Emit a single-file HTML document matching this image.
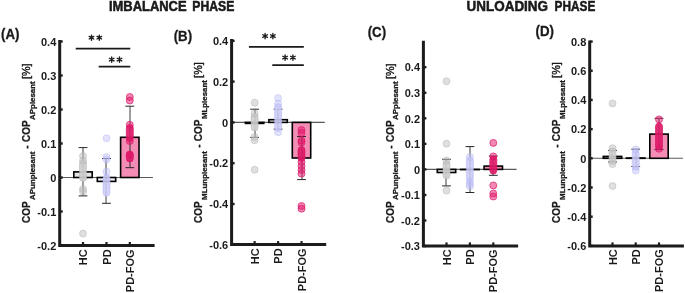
<!DOCTYPE html>
<html><head><meta charset="utf-8"><style>
html,body{margin:0;padding:0;background:#fff;width:685px;height:293px;overflow:hidden;}
svg{display:block;will-change:transform;font-family:"Liberation Sans",sans-serif;}
</style></head><body>
<svg width="685" height="293" viewBox="0 0 685 293"><rect width="685" height="293" fill="#fff"/><text x="108.9" y="11.3" font-family="Liberation Sans" font-weight="bold" font-size="14.8" fill="#1a1a1a" stroke="#1a1a1a" stroke-width="0.55" textLength="77.7" lengthAdjust="spacingAndGlyphs">IMBALANCE</text><text x="192.3" y="11.3" font-family="Liberation Sans" font-weight="bold" font-size="14.8" fill="#1a1a1a" stroke="#1a1a1a" stroke-width="0.55" textLength="42.0" lengthAdjust="spacingAndGlyphs">PHASE</text><text x="466.6" y="11.3" font-family="Liberation Sans" font-weight="bold" font-size="14.8" fill="#1a1a1a" stroke="#1a1a1a" stroke-width="0.55" textLength="81.4" lengthAdjust="spacingAndGlyphs">UNLOADING</text><text x="554.6" y="11.3" font-family="Liberation Sans" font-weight="bold" font-size="14.8" fill="#1a1a1a" stroke="#1a1a1a" stroke-width="0.55" textLength="40.7" lengthAdjust="spacingAndGlyphs">PHASE</text><text x="1.0" y="38.9" font-family="Liberation Sans" font-weight="bold" font-size="13.8" fill="#1a1a1a" stroke="#1a1a1a" stroke-width="0.3" textLength="18.4" lengthAdjust="spacingAndGlyphs">(A)</text><text x="173.7" y="40.5" font-family="Liberation Sans" font-weight="bold" font-size="13.8" fill="#1a1a1a" stroke="#1a1a1a" stroke-width="0.3" textLength="18.4" lengthAdjust="spacingAndGlyphs">(B)</text><text x="367.7" y="36.9" font-family="Liberation Sans" font-weight="bold" font-size="13.8" fill="#1a1a1a" stroke="#1a1a1a" stroke-width="0.3" textLength="18.4" lengthAdjust="spacingAndGlyphs">(C)</text><text x="535.6" y="36.4" font-family="Liberation Sans" font-weight="bold" font-size="13.8" fill="#1a1a1a" stroke="#1a1a1a" stroke-width="0.3" textLength="18.4" lengthAdjust="spacingAndGlyphs">(D)</text><g><line x1="59.7" y1="177.5" x2="152.90" y2="177.5" stroke="#5a5a5a" stroke-width="1.1"/><rect x="73.80" y="171.90" width="18.4" height="5.60" fill="#e5e5e5" stroke="#000" stroke-width="1.6"/><rect x="97.30" y="177.50" width="18.4" height="3.90" fill="#ececf8" stroke="#000" stroke-width="1.6"/><rect x="120.60" y="137.30" width="18.4" height="40.20" fill="#f38db5" stroke="#000" stroke-width="1.6"/><path d="M83,147.6V195.9" stroke="#262626" stroke-width="0.9" fill="none"/><path d="M78.60,147.6H87.40M78.60,195.9H87.40" stroke="#262626" stroke-width="1.0" fill="none"/><path d="M106,158.5V203.3" stroke="#262626" stroke-width="0.9" fill="none"/><path d="M102.10,158.5H110.90M102.10,203.3H110.90" stroke="#262626" stroke-width="1.0" fill="none"/><path d="M130,106.2V167.7" stroke="#262626" stroke-width="0.9" fill="none"/><path d="M125.40,106.2H134.20M125.40,167.7H134.20" stroke="#262626" stroke-width="1.0" fill="none"/><rect x="79.50" y="160.00" width="7.0" height="21.50" rx="3.5" fill="#d0d0d0" fill-opacity="0.9" stroke="#b4b4b4" stroke-opacity="0.6" stroke-width="0.8"/><circle cx="83.00" cy="163.50" r="3.2" fill="none" stroke="#b4b4b4" stroke-opacity="0.18" stroke-width="0.7"/><circle cx="83.00" cy="167.02" r="3.2" fill="none" stroke="#b4b4b4" stroke-opacity="0.18" stroke-width="0.7"/><circle cx="83.00" cy="170.54" r="3.2" fill="none" stroke="#b4b4b4" stroke-opacity="0.18" stroke-width="0.7"/><circle cx="83.00" cy="174.06" r="3.2" fill="none" stroke="#b4b4b4" stroke-opacity="0.18" stroke-width="0.7"/><circle cx="83.00" cy="177.58" r="3.2" fill="none" stroke="#b4b4b4" stroke-opacity="0.18" stroke-width="0.7"/><circle cx="83.00" cy="156.0" r="3.5" fill="#c0c0c0" fill-opacity="0.5" stroke="#b4b4b4" stroke-opacity="0.6" stroke-width="0.8"/><circle cx="83.00" cy="160.5" r="3.5" fill="#c0c0c0" fill-opacity="0.5" stroke="#b4b4b4" stroke-opacity="0.6" stroke-width="0.8"/><circle cx="83.00" cy="189" r="3.5" fill="#c0c0c0" fill-opacity="0.5" stroke="#b4b4b4" stroke-opacity="0.6" stroke-width="0.8"/><circle cx="83.00" cy="191.5" r="3.5" fill="#c0c0c0" fill-opacity="0.5" stroke="#b4b4b4" stroke-opacity="0.6" stroke-width="0.8"/><circle cx="83.00" cy="233.6" r="3.5" fill="#c0c0c0" fill-opacity="0.5" stroke="#b4b4b4" stroke-opacity="0.6" stroke-width="0.8"/><rect x="103.00" y="174.50" width="7.0" height="21.80" rx="3.5" fill="#ceceF8" fill-opacity="0.85" stroke="#b0b0f6" stroke-opacity="0.55" stroke-width="0.8"/><circle cx="106.50" cy="178.00" r="3.2" fill="none" stroke="#b0b0f6" stroke-opacity="0.18" stroke-width="0.7"/><circle cx="106.50" cy="181.96" r="3.2" fill="none" stroke="#b0b0f6" stroke-opacity="0.18" stroke-width="0.7"/><circle cx="106.50" cy="185.92" r="3.2" fill="none" stroke="#b0b0f6" stroke-opacity="0.18" stroke-width="0.7"/><circle cx="106.50" cy="189.88" r="3.2" fill="none" stroke="#b0b0f6" stroke-opacity="0.18" stroke-width="0.7"/><circle cx="106.50" cy="138.2" r="3.5" fill="#c0c0fa" fill-opacity="0.45" stroke="#b0b0f6" stroke-opacity="0.55" stroke-width="0.8"/><circle cx="106.50" cy="157" r="3.5" fill="#c0c0fa" fill-opacity="0.45" stroke="#b0b0f6" stroke-opacity="0.55" stroke-width="0.8"/><circle cx="106.50" cy="159.5" r="3.5" fill="#c0c0fa" fill-opacity="0.45" stroke="#b0b0f6" stroke-opacity="0.55" stroke-width="0.8"/><circle cx="106.50" cy="171.7" r="3.5" fill="#c0c0fa" fill-opacity="0.45" stroke="#b0b0f6" stroke-opacity="0.55" stroke-width="0.8"/><rect x="126.30" y="124.50" width="7.0" height="17.00" rx="3.5" fill="#e01a68" fill-opacity="0.9" stroke="#d81866" stroke-opacity="0.85" stroke-width="0.8"/><circle cx="129.80" cy="128.00" r="3.2" fill="none" stroke="#d81866" stroke-opacity="0.18" stroke-width="0.7"/><circle cx="129.80" cy="131.96" r="3.2" fill="none" stroke="#d81866" stroke-opacity="0.18" stroke-width="0.7"/><circle cx="129.80" cy="135.92" r="3.2" fill="none" stroke="#d81866" stroke-opacity="0.18" stroke-width="0.7"/><rect x="126.30" y="151.50" width="7.0" height="10.50" rx="3.5" fill="#e01a68" fill-opacity="0.9" stroke="#d81866" stroke-opacity="0.85" stroke-width="0.8"/><circle cx="129.80" cy="155.00" r="3.2" fill="none" stroke="#d81866" stroke-opacity="0.18" stroke-width="0.7"/><circle cx="129.80" cy="158.30" r="3.2" fill="none" stroke="#d81866" stroke-opacity="0.18" stroke-width="0.7"/><circle cx="129.80" cy="97" r="3.5" fill="#e3136a" fill-opacity="0.5" stroke="#d81866" stroke-opacity="0.85" stroke-width="0.8"/><circle cx="129.80" cy="100.5" r="3.5" fill="#e3136a" fill-opacity="0.5" stroke="#d81866" stroke-opacity="0.85" stroke-width="0.8"/><circle cx="129.80" cy="124.8" r="3.5" fill="#e3136a" fill-opacity="0.5" stroke="#d81866" stroke-opacity="0.85" stroke-width="0.8"/><circle cx="129.80" cy="141" r="3.5" fill="#e3136a" fill-opacity="0.5" stroke="#d81866" stroke-opacity="0.85" stroke-width="0.8"/><circle cx="129.80" cy="154.4" r="3.5" fill="#e3136a" fill-opacity="0.5" stroke="#d81866" stroke-opacity="0.85" stroke-width="0.8"/><path d="M59.7,39.9V245.5H154.6" stroke="#1c1c1c" stroke-width="3" fill="none" stroke-linejoin="miter"/><line x1="59.7" y1="41.50" x2="62.70" y2="41.50" stroke="#1c1c1c" stroke-width="2.4"/><text x="56.30" y="45.70" font-family="Liberation Sans" font-weight="bold" font-size="11" fill="#1a1a1a" text-anchor="end">0.4</text><line x1="59.7" y1="75.50" x2="62.70" y2="75.50" stroke="#1c1c1c" stroke-width="2.4"/><text x="56.30" y="79.70" font-family="Liberation Sans" font-weight="bold" font-size="11" fill="#1a1a1a" text-anchor="end">0.3</text><line x1="59.7" y1="109.50" x2="62.70" y2="109.50" stroke="#1c1c1c" stroke-width="2.4"/><text x="56.30" y="113.70" font-family="Liberation Sans" font-weight="bold" font-size="11" fill="#1a1a1a" text-anchor="end">0.2</text><line x1="59.7" y1="143.50" x2="62.70" y2="143.50" stroke="#1c1c1c" stroke-width="2.4"/><text x="56.30" y="147.70" font-family="Liberation Sans" font-weight="bold" font-size="11" fill="#1a1a1a" text-anchor="end">0.1</text><line x1="59.7" y1="177.50" x2="62.70" y2="177.50" stroke="#1c1c1c" stroke-width="2.4"/><text x="56.30" y="181.70" font-family="Liberation Sans" font-weight="bold" font-size="11" fill="#1a1a1a" text-anchor="end">0</text><line x1="59.7" y1="211.50" x2="62.70" y2="211.50" stroke="#1c1c1c" stroke-width="2.4"/><text x="56.30" y="215.70" font-family="Liberation Sans" font-weight="bold" font-size="11" fill="#1a1a1a" text-anchor="end">-0.1</text><line x1="59.7" y1="245.50" x2="62.70" y2="245.50" stroke="#1c1c1c" stroke-width="2.4"/><text x="56.30" y="249.70" font-family="Liberation Sans" font-weight="bold" font-size="11" fill="#1a1a1a" text-anchor="end">-0.2</text><line x1="83.00" y1="245.5" x2="83.00" y2="242.00" stroke="#1c1c1c" stroke-width="2.2"/><text transform="translate(87.00,249.4) rotate(-90)" font-family="Liberation Sans" font-weight="bold" font-size="11" fill="#1a1a1a" text-anchor="end">HC</text><line x1="106.50" y1="245.5" x2="106.50" y2="242.00" stroke="#1c1c1c" stroke-width="2.2"/><text transform="translate(110.50,249.4) rotate(-90)" font-family="Liberation Sans" font-weight="bold" font-size="11" fill="#1a1a1a" text-anchor="end">PD</text><line x1="129.80" y1="245.5" x2="129.80" y2="242.00" stroke="#1c1c1c" stroke-width="2.2"/><text transform="translate(133.80,249.4) rotate(-90)" font-family="Liberation Sans" font-weight="bold" font-size="11" fill="#1a1a1a" text-anchor="end">PD-FOG</text><text transform="translate(30.20,0) rotate(-90)" font-family="Liberation Sans" font-weight="bold" font-size="10" fill="#1a1a1a" stroke="#1a1a1a" stroke-width="0.25"><tspan x="-222.9">COP</tspan><tspan x="-199.9" dy="4.4" font-size="7.9" stroke-width="0.3">APunplesant</tspan><tspan x="-148.65" dy="-4.4">-</tspan><tspan x="-142.00">COP</tspan><tspan x="-119.90" dy="4.4" font-size="7.9" stroke-width="0.3">APplesant</tspan><tspan x="-79.10" dy="-4.4" font-weight="normal" font-size="10.9" stroke="#1a1a1a" stroke-width="0.4">[%]</tspan></text></g><g><line x1="231.6" y1="122.4" x2="324.80" y2="122.4" stroke="#5a5a5a" stroke-width="1.1"/><rect x="245.40" y="122.40" width="18.4" height="1.00" fill="#e5e5e5" stroke="#000" stroke-width="1.6"/><rect x="268.90" y="119.70" width="18.4" height="2.70" fill="#ececf8" stroke="#000" stroke-width="1.6"/><rect x="292.30" y="122.40" width="18.4" height="35.60" fill="#f38db5" stroke="#000" stroke-width="1.6"/><path d="M255,109.2V137.4" stroke="#262626" stroke-width="0.9" fill="none"/><path d="M250.20,109.2H259.00M250.20,137.4H259.00" stroke="#262626" stroke-width="1.0" fill="none"/><path d="M278,109.2V129.1" stroke="#262626" stroke-width="0.9" fill="none"/><path d="M273.70,109.2H282.50M273.70,129.1H282.50" stroke="#262626" stroke-width="1.0" fill="none"/><path d="M302,136.5V179.6" stroke="#262626" stroke-width="0.9" fill="none"/><path d="M297.10,136.5H305.90M297.10,179.6H305.90" stroke="#262626" stroke-width="1.0" fill="none"/><rect x="251.10" y="113.50" width="7.0" height="17.50" rx="3.5" fill="#d0d0d0" fill-opacity="0.9" stroke="#b4b4b4" stroke-opacity="0.6" stroke-width="0.8"/><circle cx="254.60" cy="117.00" r="3.2" fill="none" stroke="#b4b4b4" stroke-opacity="0.18" stroke-width="0.7"/><circle cx="254.60" cy="120.30" r="3.2" fill="none" stroke="#b4b4b4" stroke-opacity="0.18" stroke-width="0.7"/><circle cx="254.60" cy="123.60" r="3.2" fill="none" stroke="#b4b4b4" stroke-opacity="0.18" stroke-width="0.7"/><circle cx="254.60" cy="126.90" r="3.2" fill="none" stroke="#b4b4b4" stroke-opacity="0.18" stroke-width="0.7"/><circle cx="254.60" cy="102.7" r="3.5" fill="#c0c0c0" fill-opacity="0.5" stroke="#b4b4b4" stroke-opacity="0.6" stroke-width="0.8"/><circle cx="254.60" cy="113.5" r="3.5" fill="#c0c0c0" fill-opacity="0.5" stroke="#b4b4b4" stroke-opacity="0.6" stroke-width="0.8"/><circle cx="254.60" cy="137" r="3.5" fill="#c0c0c0" fill-opacity="0.5" stroke="#b4b4b4" stroke-opacity="0.6" stroke-width="0.8"/><circle cx="254.60" cy="140.2" r="3.5" fill="#c0c0c0" fill-opacity="0.5" stroke="#b4b4b4" stroke-opacity="0.6" stroke-width="0.8"/><circle cx="254.60" cy="169.8" r="3.5" fill="#c0c0c0" fill-opacity="0.5" stroke="#b4b4b4" stroke-opacity="0.6" stroke-width="0.8"/><rect x="274.60" y="103.50" width="7.0" height="28.00" rx="3.5" fill="#ceceF8" fill-opacity="0.85" stroke="#b0b0f6" stroke-opacity="0.55" stroke-width="0.8"/><circle cx="278.10" cy="107.00" r="3.2" fill="none" stroke="#b0b0f6" stroke-opacity="0.18" stroke-width="0.7"/><circle cx="278.10" cy="110.30" r="3.2" fill="none" stroke="#b0b0f6" stroke-opacity="0.18" stroke-width="0.7"/><circle cx="278.10" cy="113.60" r="3.2" fill="none" stroke="#b0b0f6" stroke-opacity="0.18" stroke-width="0.7"/><circle cx="278.10" cy="116.90" r="3.2" fill="none" stroke="#b0b0f6" stroke-opacity="0.18" stroke-width="0.7"/><circle cx="278.10" cy="120.20" r="3.2" fill="none" stroke="#b0b0f6" stroke-opacity="0.18" stroke-width="0.7"/><circle cx="278.10" cy="123.50" r="3.2" fill="none" stroke="#b0b0f6" stroke-opacity="0.18" stroke-width="0.7"/><circle cx="278.10" cy="126.80" r="3.2" fill="none" stroke="#b0b0f6" stroke-opacity="0.18" stroke-width="0.7"/><circle cx="278.10" cy="98.1" r="3.5" fill="#c0c0fa" fill-opacity="0.45" stroke="#b0b0f6" stroke-opacity="0.55" stroke-width="0.8"/><circle cx="278.10" cy="103.5" r="3.5" fill="#c0c0fa" fill-opacity="0.45" stroke="#b0b0f6" stroke-opacity="0.55" stroke-width="0.8"/><circle cx="278.10" cy="132.2" r="3.5" fill="#c0c0fa" fill-opacity="0.45" stroke="#b0b0f6" stroke-opacity="0.55" stroke-width="0.8"/><rect x="298.00" y="146.50" width="7.0" height="15.00" rx="3.5" fill="#e01a68" fill-opacity="0.9" stroke="#d81866" stroke-opacity="0.85" stroke-width="0.8"/><circle cx="301.50" cy="150.00" r="3.2" fill="none" stroke="#d81866" stroke-opacity="0.18" stroke-width="0.7"/><circle cx="301.50" cy="153.30" r="3.2" fill="none" stroke="#d81866" stroke-opacity="0.18" stroke-width="0.7"/><circle cx="301.50" cy="156.60" r="3.2" fill="none" stroke="#d81866" stroke-opacity="0.18" stroke-width="0.7"/><circle cx="301.50" cy="130" r="3.5" fill="#e3136a" fill-opacity="0.5" stroke="#d81866" stroke-opacity="0.85" stroke-width="0.8"/><circle cx="301.50" cy="133" r="3.5" fill="#e3136a" fill-opacity="0.5" stroke="#d81866" stroke-opacity="0.85" stroke-width="0.8"/><circle cx="301.50" cy="140.5" r="3.5" fill="#e3136a" fill-opacity="0.5" stroke="#d81866" stroke-opacity="0.85" stroke-width="0.8"/><circle cx="301.50" cy="142.5" r="3.5" fill="#e3136a" fill-opacity="0.5" stroke="#d81866" stroke-opacity="0.85" stroke-width="0.8"/><circle cx="301.50" cy="162" r="3.5" fill="#e3136a" fill-opacity="0.5" stroke="#d81866" stroke-opacity="0.85" stroke-width="0.8"/><circle cx="301.50" cy="166" r="3.5" fill="#e3136a" fill-opacity="0.5" stroke="#d81866" stroke-opacity="0.85" stroke-width="0.8"/><circle cx="301.50" cy="170" r="3.5" fill="#e3136a" fill-opacity="0.5" stroke="#d81866" stroke-opacity="0.85" stroke-width="0.8"/><circle cx="301.50" cy="173.6" r="3.5" fill="#e3136a" fill-opacity="0.5" stroke="#d81866" stroke-opacity="0.85" stroke-width="0.8"/><circle cx="301.50" cy="206" r="3.5" fill="#e3136a" fill-opacity="0.5" stroke="#d81866" stroke-opacity="0.85" stroke-width="0.8"/><circle cx="301.50" cy="208.7" r="3.5" fill="#e3136a" fill-opacity="0.5" stroke="#d81866" stroke-opacity="0.85" stroke-width="0.8"/><path d="M231.6,39.1V244.6H326.2" stroke="#1c1c1c" stroke-width="3" fill="none" stroke-linejoin="miter"/><line x1="231.6" y1="40.80" x2="234.60" y2="40.80" stroke="#1c1c1c" stroke-width="2.4"/><text x="228.20" y="45.00" font-family="Liberation Sans" font-weight="bold" font-size="11" fill="#1a1a1a" text-anchor="end">0.4</text><line x1="231.6" y1="81.60" x2="234.60" y2="81.60" stroke="#1c1c1c" stroke-width="2.4"/><text x="228.20" y="85.80" font-family="Liberation Sans" font-weight="bold" font-size="11" fill="#1a1a1a" text-anchor="end">0.2</text><line x1="231.6" y1="122.40" x2="234.60" y2="122.40" stroke="#1c1c1c" stroke-width="2.4"/><text x="228.20" y="126.60" font-family="Liberation Sans" font-weight="bold" font-size="11" fill="#1a1a1a" text-anchor="end">0</text><line x1="231.6" y1="163.20" x2="234.60" y2="163.20" stroke="#1c1c1c" stroke-width="2.4"/><text x="228.20" y="167.40" font-family="Liberation Sans" font-weight="bold" font-size="11" fill="#1a1a1a" text-anchor="end">-0.2</text><line x1="231.6" y1="204.00" x2="234.60" y2="204.00" stroke="#1c1c1c" stroke-width="2.4"/><text x="228.20" y="208.20" font-family="Liberation Sans" font-weight="bold" font-size="11" fill="#1a1a1a" text-anchor="end">-0.4</text><line x1="231.6" y1="244.80" x2="234.60" y2="244.80" stroke="#1c1c1c" stroke-width="2.4"/><text x="228.20" y="249.00" font-family="Liberation Sans" font-weight="bold" font-size="11" fill="#1a1a1a" text-anchor="end">-0.6</text><line x1="254.60" y1="244.6" x2="254.60" y2="241.10" stroke="#1c1c1c" stroke-width="2.2"/><text transform="translate(258.60,248.4) rotate(-90)" font-family="Liberation Sans" font-weight="bold" font-size="11" fill="#1a1a1a" text-anchor="end">HC</text><line x1="278.10" y1="244.6" x2="278.10" y2="241.10" stroke="#1c1c1c" stroke-width="2.2"/><text transform="translate(282.10,248.4) rotate(-90)" font-family="Liberation Sans" font-weight="bold" font-size="11" fill="#1a1a1a" text-anchor="end">PD</text><line x1="301.50" y1="244.6" x2="301.50" y2="241.10" stroke="#1c1c1c" stroke-width="2.2"/><text transform="translate(305.50,248.4) rotate(-90)" font-family="Liberation Sans" font-weight="bold" font-size="11" fill="#1a1a1a" text-anchor="end">PD-FOG</text><text transform="translate(202.10,0) rotate(-90)" font-family="Liberation Sans" font-weight="bold" font-size="10" fill="#1a1a1a" stroke="#1a1a1a" stroke-width="0.25"><tspan x="-222.9">COP</tspan><tspan x="-199.9" dy="4.4" font-size="7.9" stroke-width="0.3">MLunplesant</tspan><tspan x="-147.85" dy="-4.4">-</tspan><tspan x="-141.20">COP</tspan><tspan x="-119.10" dy="4.4" font-size="7.9" stroke-width="0.3">MLplesant</tspan><tspan x="-77.90" dy="-4.4" font-weight="normal" font-size="10.9" stroke="#1a1a1a" stroke-width="0.4">[%]</tspan></text></g><g><line x1="423.4" y1="169.4" x2="516.60" y2="169.4" stroke="#5a5a5a" stroke-width="1.1"/><rect x="437.30" y="169.40" width="18.4" height="3.10" fill="#e5e5e5" stroke="#000" stroke-width="1.6"/><rect x="460.70" y="169.40" width="18.4" height="0.20" fill="#ececf8" stroke="#000" stroke-width="1.6"/><rect x="484.10" y="166.10" width="18.4" height="3.30" fill="#f38db5" stroke="#000" stroke-width="1.6"/><path d="M446,159.3V185.9" stroke="#262626" stroke-width="0.9" fill="none"/><path d="M442.10,159.3H450.90M442.10,185.9H450.90" stroke="#262626" stroke-width="1.0" fill="none"/><path d="M470,146.6V192.5" stroke="#262626" stroke-width="0.9" fill="none"/><path d="M465.50,146.6H474.30M465.50,192.5H474.30" stroke="#262626" stroke-width="1.0" fill="none"/><path d="M493,156.1V175.3" stroke="#262626" stroke-width="0.9" fill="none"/><path d="M488.90,156.1H497.70M488.90,175.3H497.70" stroke="#262626" stroke-width="1.0" fill="none"/><rect x="443.00" y="160.50" width="7.0" height="18.50" rx="3.5" fill="#d0d0d0" fill-opacity="0.9" stroke="#b4b4b4" stroke-opacity="0.6" stroke-width="0.8"/><circle cx="446.50" cy="164.00" r="3.2" fill="none" stroke="#b4b4b4" stroke-opacity="0.18" stroke-width="0.7"/><circle cx="446.50" cy="167.30" r="3.2" fill="none" stroke="#b4b4b4" stroke-opacity="0.18" stroke-width="0.7"/><circle cx="446.50" cy="170.60" r="3.2" fill="none" stroke="#b4b4b4" stroke-opacity="0.18" stroke-width="0.7"/><circle cx="446.50" cy="173.90" r="3.2" fill="none" stroke="#b4b4b4" stroke-opacity="0.18" stroke-width="0.7"/><circle cx="446.50" cy="81.3" r="3.5" fill="#c0c0c0" fill-opacity="0.5" stroke="#b4b4b4" stroke-opacity="0.6" stroke-width="0.8"/><circle cx="446.50" cy="143.7" r="3.5" fill="#c0c0c0" fill-opacity="0.5" stroke="#b4b4b4" stroke-opacity="0.6" stroke-width="0.8"/><circle cx="446.50" cy="160.5" r="3.5" fill="#c0c0c0" fill-opacity="0.5" stroke="#b4b4b4" stroke-opacity="0.6" stroke-width="0.8"/><circle cx="446.50" cy="190.6" r="3.5" fill="#c0c0c0" fill-opacity="0.5" stroke="#b4b4b4" stroke-opacity="0.6" stroke-width="0.8"/><rect x="466.40" y="157.00" width="7.0" height="24.50" rx="3.5" fill="#ceceF8" fill-opacity="0.85" stroke="#b0b0f6" stroke-opacity="0.55" stroke-width="0.8"/><circle cx="469.90" cy="160.50" r="3.2" fill="none" stroke="#b0b0f6" stroke-opacity="0.18" stroke-width="0.7"/><circle cx="469.90" cy="163.80" r="3.2" fill="none" stroke="#b0b0f6" stroke-opacity="0.18" stroke-width="0.7"/><circle cx="469.90" cy="167.10" r="3.2" fill="none" stroke="#b0b0f6" stroke-opacity="0.18" stroke-width="0.7"/><circle cx="469.90" cy="170.40" r="3.2" fill="none" stroke="#b0b0f6" stroke-opacity="0.18" stroke-width="0.7"/><circle cx="469.90" cy="173.70" r="3.2" fill="none" stroke="#b0b0f6" stroke-opacity="0.18" stroke-width="0.7"/><circle cx="469.90" cy="177.00" r="3.2" fill="none" stroke="#b0b0f6" stroke-opacity="0.18" stroke-width="0.7"/><circle cx="469.90" cy="157" r="3.5" fill="#c0c0fa" fill-opacity="0.45" stroke="#b0b0f6" stroke-opacity="0.55" stroke-width="0.8"/><circle cx="469.90" cy="181.5" r="3.5" fill="#c0c0fa" fill-opacity="0.45" stroke="#b0b0f6" stroke-opacity="0.55" stroke-width="0.8"/><circle cx="469.90" cy="184" r="3.5" fill="#c0c0fa" fill-opacity="0.45" stroke="#b0b0f6" stroke-opacity="0.55" stroke-width="0.8"/><circle cx="469.90" cy="186.3" r="3.5" fill="#c0c0fa" fill-opacity="0.45" stroke="#b0b0f6" stroke-opacity="0.55" stroke-width="0.8"/><rect x="489.80" y="156.00" width="7.0" height="18.10" rx="3.5" fill="#e01a68" fill-opacity="0.9" stroke="#d81866" stroke-opacity="0.85" stroke-width="0.8"/><circle cx="493.30" cy="159.50" r="3.2" fill="none" stroke="#d81866" stroke-opacity="0.18" stroke-width="0.7"/><circle cx="493.30" cy="162.80" r="3.2" fill="none" stroke="#d81866" stroke-opacity="0.18" stroke-width="0.7"/><circle cx="493.30" cy="166.10" r="3.2" fill="none" stroke="#d81866" stroke-opacity="0.18" stroke-width="0.7"/><circle cx="493.30" cy="169.40" r="3.2" fill="none" stroke="#d81866" stroke-opacity="0.18" stroke-width="0.7"/><circle cx="493.30" cy="142.9" r="3.5" fill="#e3136a" fill-opacity="0.5" stroke="#d81866" stroke-opacity="0.85" stroke-width="0.8"/><circle cx="493.30" cy="156.4" r="3.5" fill="#e3136a" fill-opacity="0.5" stroke="#d81866" stroke-opacity="0.85" stroke-width="0.8"/><circle cx="493.30" cy="185.4" r="3.5" fill="#e3136a" fill-opacity="0.5" stroke="#d81866" stroke-opacity="0.85" stroke-width="0.8"/><circle cx="493.30" cy="193.5" r="3.5" fill="#e3136a" fill-opacity="0.5" stroke="#d81866" stroke-opacity="0.85" stroke-width="0.8"/><circle cx="493.30" cy="196.5" r="3.5" fill="#e3136a" fill-opacity="0.5" stroke="#d81866" stroke-opacity="0.85" stroke-width="0.8"/><path d="M423.4,40.7V245.9H518.1" stroke="#1c1c1c" stroke-width="3" fill="none" stroke-linejoin="miter"/><line x1="423.4" y1="67.20" x2="426.40" y2="67.20" stroke="#1c1c1c" stroke-width="2.4"/><text x="420.00" y="71.40" font-family="Liberation Sans" font-weight="bold" font-size="11" fill="#1a1a1a" text-anchor="end">0.4</text><line x1="423.4" y1="92.75" x2="426.40" y2="92.75" stroke="#1c1c1c" stroke-width="2.4"/><text x="420.00" y="96.95" font-family="Liberation Sans" font-weight="bold" font-size="11" fill="#1a1a1a" text-anchor="end">0.3</text><line x1="423.4" y1="118.30" x2="426.40" y2="118.30" stroke="#1c1c1c" stroke-width="2.4"/><text x="420.00" y="122.50" font-family="Liberation Sans" font-weight="bold" font-size="11" fill="#1a1a1a" text-anchor="end">0.2</text><line x1="423.4" y1="143.85" x2="426.40" y2="143.85" stroke="#1c1c1c" stroke-width="2.4"/><text x="420.00" y="148.05" font-family="Liberation Sans" font-weight="bold" font-size="11" fill="#1a1a1a" text-anchor="end">0.1</text><line x1="423.4" y1="169.40" x2="426.40" y2="169.40" stroke="#1c1c1c" stroke-width="2.4"/><text x="420.00" y="173.60" font-family="Liberation Sans" font-weight="bold" font-size="11" fill="#1a1a1a" text-anchor="end">0</text><line x1="423.4" y1="194.95" x2="426.40" y2="194.95" stroke="#1c1c1c" stroke-width="2.4"/><text x="420.00" y="199.15" font-family="Liberation Sans" font-weight="bold" font-size="11" fill="#1a1a1a" text-anchor="end">-0.1</text><line x1="423.4" y1="220.50" x2="426.40" y2="220.50" stroke="#1c1c1c" stroke-width="2.4"/><text x="420.00" y="224.70" font-family="Liberation Sans" font-weight="bold" font-size="11" fill="#1a1a1a" text-anchor="end">-0.2</text><line x1="423.4" y1="246.05" x2="426.40" y2="246.05" stroke="#1c1c1c" stroke-width="2.4"/><text x="420.00" y="250.25" font-family="Liberation Sans" font-weight="bold" font-size="11" fill="#1a1a1a" text-anchor="end">-0.3</text><line x1="446.50" y1="245.9" x2="446.50" y2="242.40" stroke="#1c1c1c" stroke-width="2.2"/><text transform="translate(450.50,249.4) rotate(-90)" font-family="Liberation Sans" font-weight="bold" font-size="11" fill="#1a1a1a" text-anchor="end">HC</text><line x1="469.90" y1="245.9" x2="469.90" y2="242.40" stroke="#1c1c1c" stroke-width="2.2"/><text transform="translate(473.90,249.4) rotate(-90)" font-family="Liberation Sans" font-weight="bold" font-size="11" fill="#1a1a1a" text-anchor="end">PD</text><line x1="493.30" y1="245.9" x2="493.30" y2="242.40" stroke="#1c1c1c" stroke-width="2.2"/><text transform="translate(497.30,249.4) rotate(-90)" font-family="Liberation Sans" font-weight="bold" font-size="11" fill="#1a1a1a" text-anchor="end">PD-FOG</text><text transform="translate(393.90,0) rotate(-90)" font-family="Liberation Sans" font-weight="bold" font-size="10" fill="#1a1a1a" stroke="#1a1a1a" stroke-width="0.25"><tspan x="-222.9">COP</tspan><tspan x="-199.9" dy="4.4" font-size="7.9" stroke-width="0.3">APunplesant</tspan><tspan x="-148.65" dy="-4.4">-</tspan><tspan x="-142.00">COP</tspan><tspan x="-119.90" dy="4.4" font-size="7.9" stroke-width="0.3">APplesant</tspan><tspan x="-79.10" dy="-4.4" font-weight="normal" font-size="10.9" stroke="#1a1a1a" stroke-width="0.4">[%]</tspan></text></g><g><line x1="589.7" y1="158.3" x2="682.90" y2="158.3" stroke="#5a5a5a" stroke-width="1.1"/><rect x="603.30" y="156.40" width="18.4" height="1.90" fill="#e5e5e5" stroke="#000" stroke-width="1.6"/><rect x="626.50" y="158.00" width="18.4" height="0.30" fill="#ececf8" stroke="#000" stroke-width="1.6"/><rect x="649.80" y="134.10" width="18.4" height="24.20" fill="#f38db5" stroke="#000" stroke-width="1.6"/><path d="M612,150.4V162.0" stroke="#262626" stroke-width="0.9" fill="none"/><path d="M608.10,150.4H616.90M608.10,162.0H616.90" stroke="#262626" stroke-width="1.0" fill="none"/><path d="M636,149.2V166.5" stroke="#262626" stroke-width="0.9" fill="none"/><path d="M631.30,149.2H640.10M631.30,166.5H640.10" stroke="#262626" stroke-width="1.0" fill="none"/><path d="M659,118.3V149.5" stroke="#262626" stroke-width="0.9" fill="none"/><path d="M654.60,118.3H663.40M654.60,149.5H663.40" stroke="#262626" stroke-width="1.0" fill="none"/><rect x="609.00" y="148.00" width="7.0" height="16.50" rx="3.5" fill="#d0d0d0" fill-opacity="0.9" stroke="#b4b4b4" stroke-opacity="0.6" stroke-width="0.8"/><circle cx="612.50" cy="151.50" r="3.2" fill="none" stroke="#b4b4b4" stroke-opacity="0.18" stroke-width="0.7"/><circle cx="612.50" cy="154.80" r="3.2" fill="none" stroke="#b4b4b4" stroke-opacity="0.18" stroke-width="0.7"/><circle cx="612.50" cy="158.10" r="3.2" fill="none" stroke="#b4b4b4" stroke-opacity="0.18" stroke-width="0.7"/><circle cx="612.50" cy="103.5" r="3.5" fill="#c0c0c0" fill-opacity="0.5" stroke="#b4b4b4" stroke-opacity="0.6" stroke-width="0.8"/><circle cx="612.50" cy="148.2" r="3.5" fill="#c0c0c0" fill-opacity="0.5" stroke="#b4b4b4" stroke-opacity="0.6" stroke-width="0.8"/><circle cx="612.50" cy="164.1" r="3.5" fill="#c0c0c0" fill-opacity="0.5" stroke="#b4b4b4" stroke-opacity="0.6" stroke-width="0.8"/><circle cx="612.50" cy="186" r="3.5" fill="#c0c0c0" fill-opacity="0.5" stroke="#b4b4b4" stroke-opacity="0.6" stroke-width="0.8"/><rect x="632.20" y="149.50" width="7.0" height="21.00" rx="3.5" fill="#ceceF8" fill-opacity="0.85" stroke="#b0b0f6" stroke-opacity="0.55" stroke-width="0.8"/><circle cx="635.70" cy="153.00" r="3.2" fill="none" stroke="#b0b0f6" stroke-opacity="0.18" stroke-width="0.7"/><circle cx="635.70" cy="156.30" r="3.2" fill="none" stroke="#b0b0f6" stroke-opacity="0.18" stroke-width="0.7"/><circle cx="635.70" cy="159.60" r="3.2" fill="none" stroke="#b0b0f6" stroke-opacity="0.18" stroke-width="0.7"/><circle cx="635.70" cy="162.90" r="3.2" fill="none" stroke="#b0b0f6" stroke-opacity="0.18" stroke-width="0.7"/><circle cx="635.70" cy="166.20" r="3.2" fill="none" stroke="#b0b0f6" stroke-opacity="0.18" stroke-width="0.7"/><circle cx="635.70" cy="149.5" r="3.5" fill="#c0c0fa" fill-opacity="0.45" stroke="#b0b0f6" stroke-opacity="0.55" stroke-width="0.8"/><circle cx="635.70" cy="170.5" r="3.5" fill="#c0c0fa" fill-opacity="0.45" stroke="#b0b0f6" stroke-opacity="0.55" stroke-width="0.8"/><rect x="655.50" y="123.00" width="7.0" height="26.50" rx="3.5" fill="#e01a68" fill-opacity="0.9" stroke="#d81866" stroke-opacity="0.85" stroke-width="0.8"/><circle cx="659.00" cy="126.50" r="3.2" fill="none" stroke="#d81866" stroke-opacity="0.18" stroke-width="0.7"/><circle cx="659.00" cy="129.80" r="3.2" fill="none" stroke="#d81866" stroke-opacity="0.18" stroke-width="0.7"/><circle cx="659.00" cy="133.10" r="3.2" fill="none" stroke="#d81866" stroke-opacity="0.18" stroke-width="0.7"/><circle cx="659.00" cy="136.40" r="3.2" fill="none" stroke="#d81866" stroke-opacity="0.18" stroke-width="0.7"/><circle cx="659.00" cy="139.70" r="3.2" fill="none" stroke="#d81866" stroke-opacity="0.18" stroke-width="0.7"/><circle cx="659.00" cy="143.00" r="3.2" fill="none" stroke="#d81866" stroke-opacity="0.18" stroke-width="0.7"/><circle cx="659.00" cy="119.4" r="3.5" fill="#e3136a" fill-opacity="0.5" stroke="#d81866" stroke-opacity="0.85" stroke-width="0.8"/><circle cx="659.00" cy="148.7" r="3.5" fill="#e3136a" fill-opacity="0.5" stroke="#d81866" stroke-opacity="0.85" stroke-width="0.8"/><path d="M589.7,40.5V245.9H683.9" stroke="#1c1c1c" stroke-width="3" fill="none" stroke-linejoin="miter"/><line x1="589.7" y1="41.58" x2="592.70" y2="41.58" stroke="#1c1c1c" stroke-width="2.4"/><text x="586.30" y="45.78" font-family="Liberation Sans" font-weight="bold" font-size="11" fill="#1a1a1a" text-anchor="end">0.8</text><line x1="589.7" y1="70.76" x2="592.70" y2="70.76" stroke="#1c1c1c" stroke-width="2.4"/><text x="586.30" y="74.96" font-family="Liberation Sans" font-weight="bold" font-size="11" fill="#1a1a1a" text-anchor="end">0.6</text><line x1="589.7" y1="99.94" x2="592.70" y2="99.94" stroke="#1c1c1c" stroke-width="2.4"/><text x="586.30" y="104.14" font-family="Liberation Sans" font-weight="bold" font-size="11" fill="#1a1a1a" text-anchor="end">0.4</text><line x1="589.7" y1="129.12" x2="592.70" y2="129.12" stroke="#1c1c1c" stroke-width="2.4"/><text x="586.30" y="133.32" font-family="Liberation Sans" font-weight="bold" font-size="11" fill="#1a1a1a" text-anchor="end">0.2</text><line x1="589.7" y1="158.30" x2="592.70" y2="158.30" stroke="#1c1c1c" stroke-width="2.4"/><text x="586.30" y="162.50" font-family="Liberation Sans" font-weight="bold" font-size="11" fill="#1a1a1a" text-anchor="end">0</text><line x1="589.7" y1="187.48" x2="592.70" y2="187.48" stroke="#1c1c1c" stroke-width="2.4"/><text x="586.30" y="191.68" font-family="Liberation Sans" font-weight="bold" font-size="11" fill="#1a1a1a" text-anchor="end">-0.2</text><line x1="589.7" y1="216.66" x2="592.70" y2="216.66" stroke="#1c1c1c" stroke-width="2.4"/><text x="586.30" y="220.86" font-family="Liberation Sans" font-weight="bold" font-size="11" fill="#1a1a1a" text-anchor="end">-0.4</text><line x1="589.7" y1="245.84" x2="592.70" y2="245.84" stroke="#1c1c1c" stroke-width="2.4"/><text x="586.30" y="250.04" font-family="Liberation Sans" font-weight="bold" font-size="11" fill="#1a1a1a" text-anchor="end">-0.6</text><line x1="612.50" y1="245.9" x2="612.50" y2="242.40" stroke="#1c1c1c" stroke-width="2.2"/><text transform="translate(616.50,249.2) rotate(-90)" font-family="Liberation Sans" font-weight="bold" font-size="11" fill="#1a1a1a" text-anchor="end">HC</text><line x1="635.70" y1="245.9" x2="635.70" y2="242.40" stroke="#1c1c1c" stroke-width="2.2"/><text transform="translate(639.70,249.2) rotate(-90)" font-family="Liberation Sans" font-weight="bold" font-size="11" fill="#1a1a1a" text-anchor="end">PD</text><line x1="659.00" y1="245.9" x2="659.00" y2="242.40" stroke="#1c1c1c" stroke-width="2.2"/><text transform="translate(663.00,249.2) rotate(-90)" font-family="Liberation Sans" font-weight="bold" font-size="11" fill="#1a1a1a" text-anchor="end">PD-FOG</text><text transform="translate(560.20,0) rotate(-90)" font-family="Liberation Sans" font-weight="bold" font-size="10" fill="#1a1a1a" stroke="#1a1a1a" stroke-width="0.25"><tspan x="-222.9">COP</tspan><tspan x="-199.9" dy="4.4" font-size="7.9" stroke-width="0.3">MLunplesant</tspan><tspan x="-147.85" dy="-4.4">-</tspan><tspan x="-141.20">COP</tspan><tspan x="-119.10" dy="4.4" font-size="7.9" stroke-width="0.3">MLplesant</tspan><tspan x="-77.90" dy="-4.4" font-weight="normal" font-size="10.9" stroke="#1a1a1a" stroke-width="0.4">[%]</tspan></text></g><path d="M75.7,48.7H130.3M98.7,66.7H130.3" stroke="#1a1a1a" stroke-width="1.8"/><path d="M91.50,35.05L91.50,40.35 M89.21,36.38L93.79,39.03 M93.79,36.38L89.21,39.03" stroke="#1a1a1a" stroke-width="1.35" stroke-linecap="round" fill="none"/><path d="M99.30,35.05L99.30,40.35 M97.01,36.38L101.59,39.03 M101.59,36.38L97.01,39.03" stroke="#1a1a1a" stroke-width="1.35" stroke-linecap="round" fill="none"/><path d="M111.70,56.95L111.70,62.25 M109.41,58.27L113.99,60.93 M113.99,58.27L109.41,60.93" stroke="#1a1a1a" stroke-width="1.35" stroke-linecap="round" fill="none"/><path d="M119.50,56.95L119.50,62.25 M117.21,58.27L121.79,60.93 M121.79,58.27L117.21,60.93" stroke="#1a1a1a" stroke-width="1.35" stroke-linecap="round" fill="none"/><path d="M248.9,46.8H303.8M272.3,65.2H303.8" stroke="#1a1a1a" stroke-width="1.8"/><path d="M265.10,33.45L265.10,38.75 M262.81,34.77L267.39,37.43 M267.39,34.77L262.81,37.43" stroke="#1a1a1a" stroke-width="1.35" stroke-linecap="round" fill="none"/><path d="M272.90,33.45L272.90,38.75 M270.61,34.77L275.19,37.43 M275.19,34.77L270.61,37.43" stroke="#1a1a1a" stroke-width="1.35" stroke-linecap="round" fill="none"/><path d="M285.10,54.95L285.10,60.25 M282.81,56.27L287.39,58.93 M287.39,56.27L282.81,58.93" stroke="#1a1a1a" stroke-width="1.35" stroke-linecap="round" fill="none"/><path d="M292.90,54.95L292.90,60.25 M290.61,56.27L295.19,58.93 M295.19,56.27L290.61,58.93" stroke="#1a1a1a" stroke-width="1.35" stroke-linecap="round" fill="none"/></svg>
</body></html>
